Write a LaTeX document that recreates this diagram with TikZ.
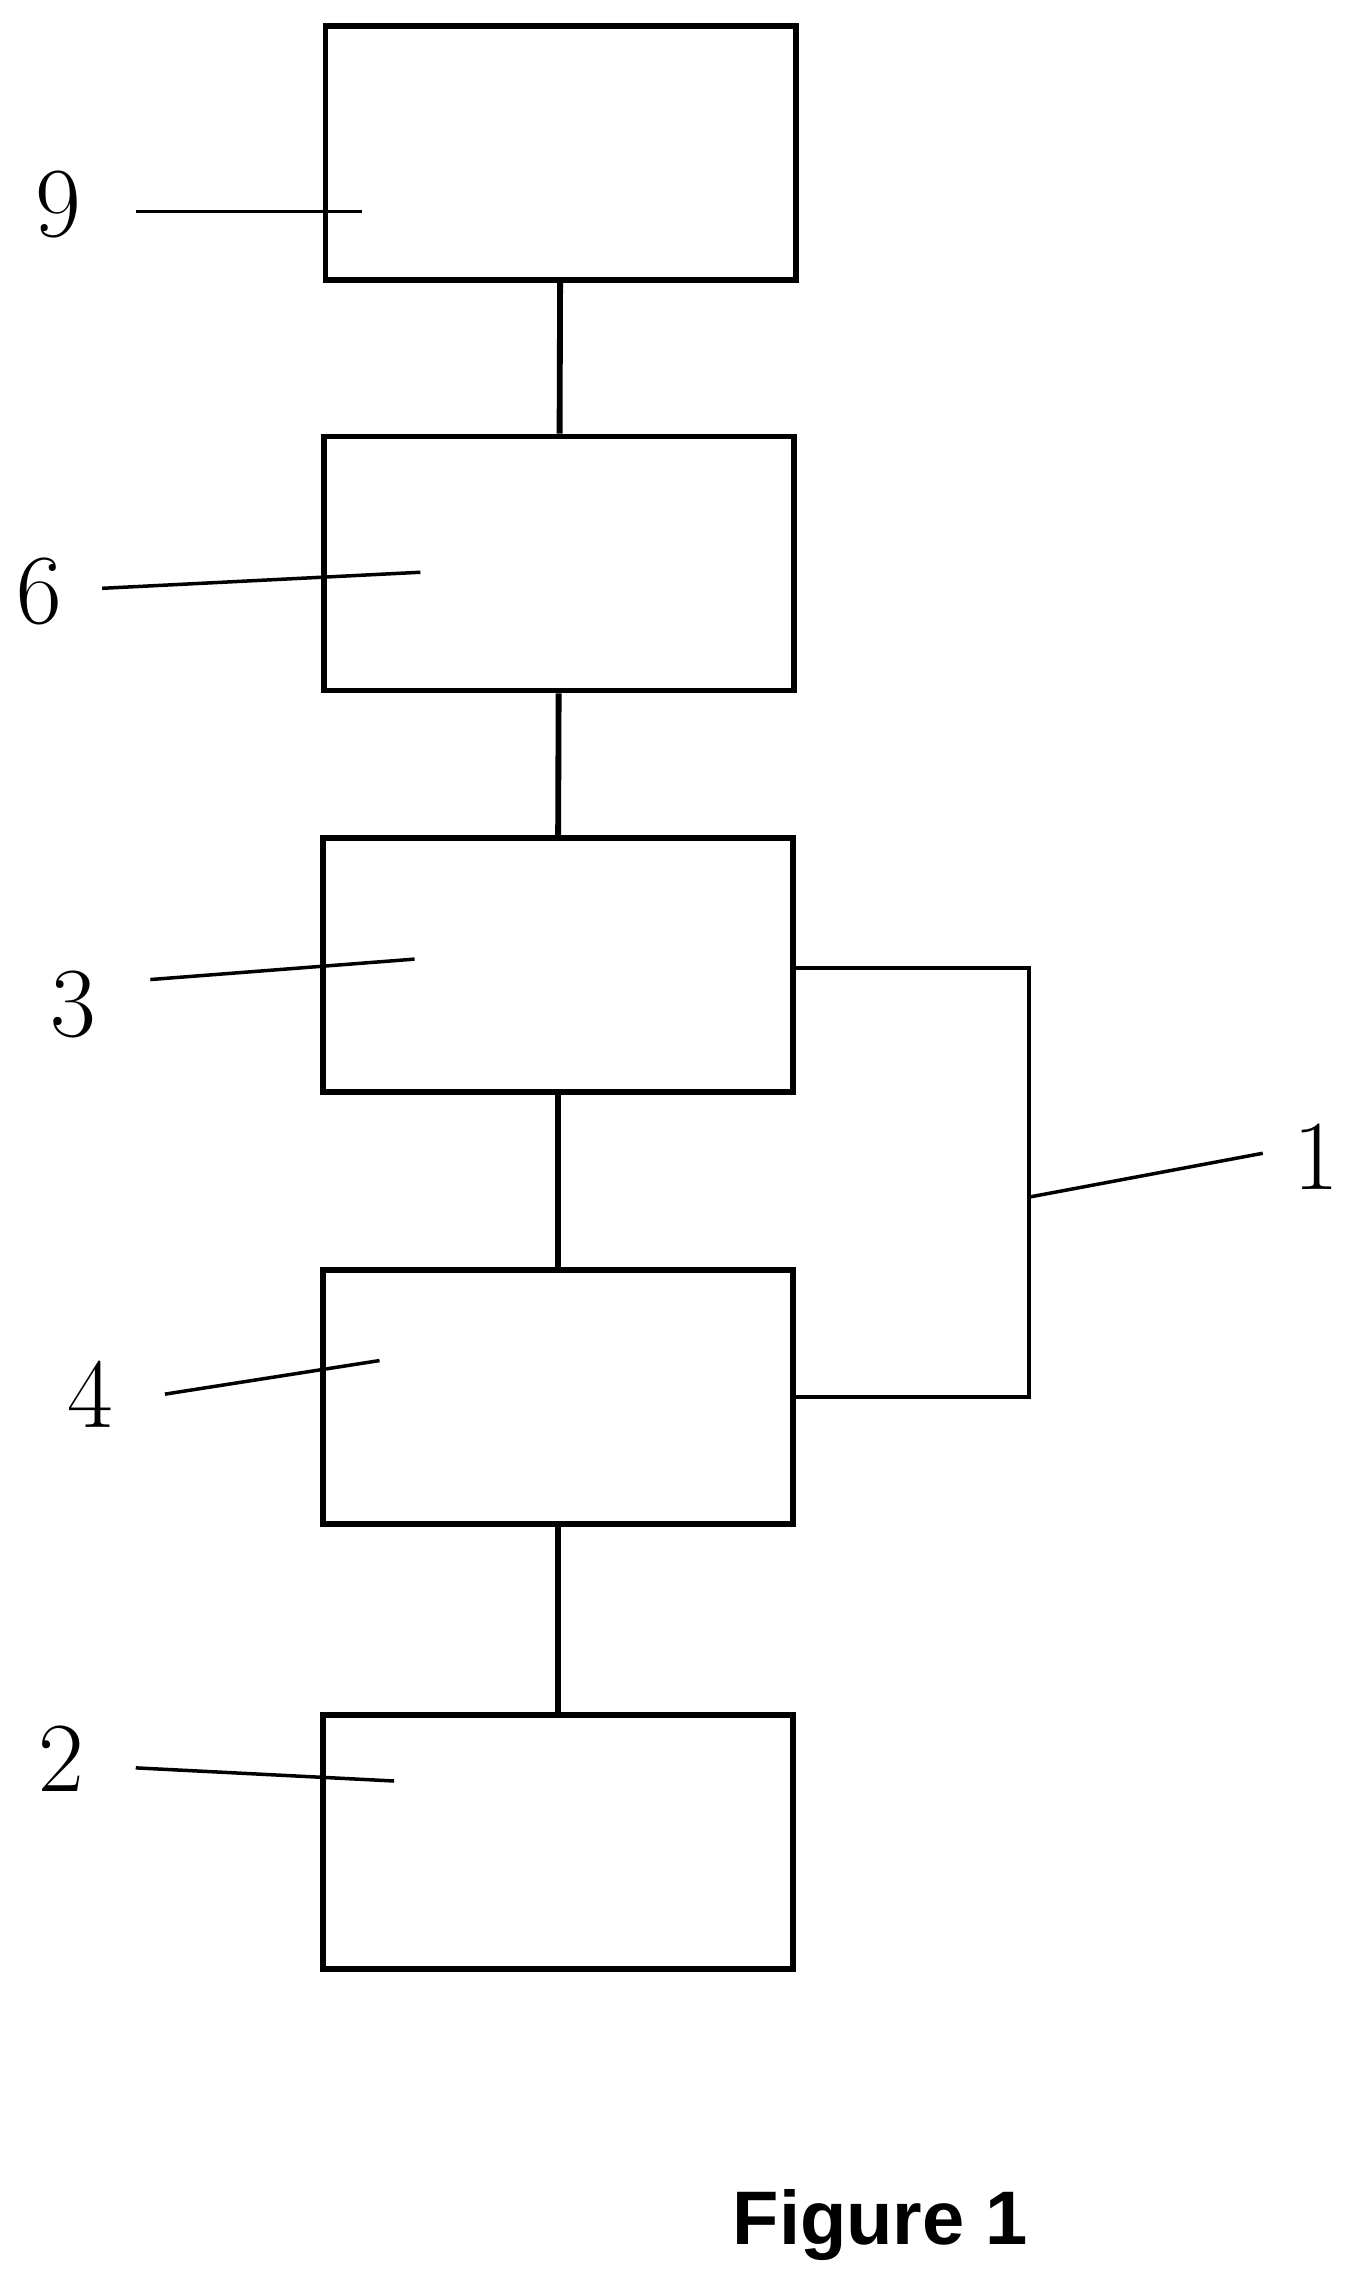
\documentclass[tikz,border=0pt]{standalone}
\usepackage{fontspec}
\newfontfamily\figfont{Liberation Sans}
\begin{document}
\begin{tikzpicture}[x=0.5pt,y=-0.5pt]
\tikzset{blk/.style={draw,line width=2pt,minimum width=161pt,minimum height=87pt,inner sep=0pt},
 lead/.style={line width=1.2pt},
 num/.style={font=\fontsize{34}{34}\selectfont}}
\useasboundingbox (0,0) rectangle (936,1568);

\node[blk] (b9) at (384,105) {};
\node[blk] (b6) at (383,386) {};
\node[blk] (b3) at (382,661) {};
\node[blk] (b4) at (382,957) {};
\node[blk] (b2) at (382,1262) {};

\draw[line width=2pt] (b9) -- (b6);
\draw[line width=2pt] (b6) -- (b3);
\draw[line width=2pt] (b3) -- (b4);
\draw[line width=2pt] (b4) -- (b2);

% bracket
\coordinate (k) at (705,820);
\draw[line width=1.5pt] (b3.east|-382,663) -- (705,663) -- (705,957) -- (b4.east|-382,957);

\node[num] (n9) at (40,140) {9};
\node[num] (n6) at (27,405) {6};
\node[num] (n3) at (50,688) {3};
\node[num] (n4) at (62,955) {4};
\node[num] (n2) at (42,1205) {2};
\node[num] (n1) at (902,792) {1};

\draw[lead] (93,145) -- (248,145);
\draw[lead] (70,403) -- (288,392);
\draw[lead] (103,671) -- (284,657);
\draw[lead] (113,955) -- (260,932);
\draw[lead] (93,1211) -- (270,1220);
\draw[lead] (k) -- (865,790);

\node[font=\figfont\bfseries\fontsize{26}{26}\selectfont] (fig) at (603,1524) {Figure 1};
\end{tikzpicture}
\end{document}
